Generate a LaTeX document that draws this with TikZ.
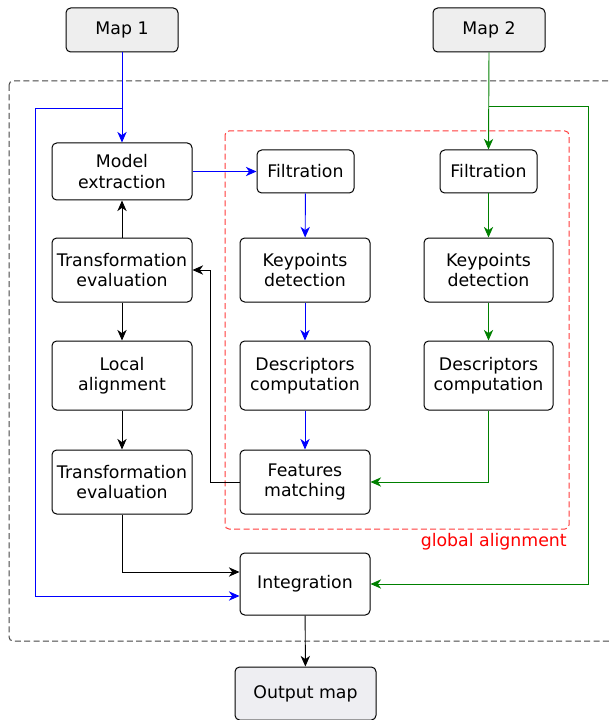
\documentclass[tikz,border=0pt]{standalone}
\usepackage{fontspec}
\setmainfont{DejaVu Sans}
\usetikzlibrary{arrows.meta}
\definecolor{mapfill}{HTML}{EEEEEE}
\definecolor{outfill}{HTML}{EEEEF2}
\definecolor{dgreen}{HTML}{008000}
\definecolor{dred}{HTML}{FF3B3B}
\definecolor{outergray}{HTML}{444444}
\tikzset{
  box/.style={draw=black, line width=0.75pt, rounded corners=3.5pt, align=center,
    font=\fontsize{13}{15.2}\selectfont, inner sep=0pt},
  sz/.style 2 args={minimum width=#1*0.75pt, minimum height=#2*0.75pt},
  conn/.style={line width=0.7pt, -{Stealth[length=8pt, width=7pt, inset=2.5pt]}},
}
\begin{document}
\begin{tikzpicture}[x=0.75pt, y=-0.75pt]
\useasboundingbox (0,0) rectangle (609,720);
% outer and inner dashed frames
\draw[outergray, line width=0.75pt, dash pattern=on 4.5pt off 2.5pt, rounded corners=3pt] (9,81) rectangle (640,641);
\draw[dred, line width=0.75pt, dash pattern=on 4.5pt off 2.5pt, rounded corners=3pt] (225,131) rectangle (569,529);
\node[anchor=east, text=red, font=\fontsize{13}{15.2}\selectfont, inner sep=0pt] (gl) at (567,542) {global alignment};

% nodes
\node[box, fill=mapfill, sz={112}{44}] (m1) at (122,30) {Map 1};
\node[box, fill=mapfill, sz={112}{44}] (m2) at (489,30) {Map 2};
\node[box, sz={140}{57}] (me) at (122,171.5) {Model\\extraction};
\node[box, sz={140}{64}] (te1) at (122,270) {Transformation\\evaluation};
\node[box, sz={140}{69}] (la) at (122,375.5) {Local\\alignment};
\node[box, sz={140}{64}] (te2) at (122,482) {Transformation\\evaluation};
\node[box, sz={97}{43}] (f1) at (305.5,171.5) {Filtration};
\node[box, sz={130}{64}] (k1) at (305,270) {Keypoints\\detection};
\node[box, sz={130}{69}] (d1) at (305,375.5) {Descriptors\\computation};
\node[box, sz={130}{64}] (fm) at (305,482) {Features\\matching};
\node[box, sz={97}{43}] (f2) at (488.5,171.5) {Filtration};
\node[box, sz={129}{64}] (k2) at (488.5,270) {Keypoints\\detection};
\node[box, sz={129}{69}] (d2) at (488.5,375.5) {Descriptors\\computation};
\node[box, sz={130}{62}] (in) at (305,584) {Integration};
\node[box, fill=outfill, sz={141}{53}] (om) at (305.5,693.5) {Output map};

% map 1 (blue)
\coordinate (b1) at (122,108);
\draw[conn, blue] (m1.south) -- (me.north);
\draw[conn, blue] (b1) -| (35,596) -- (in.west |- 0,596);
\draw[conn, blue] (me.east) -- (f1.west);
\draw[conn, blue] (f1) -- (k1);
\draw[conn, blue] (k1) -- (d1);
\draw[conn, blue] (d1) -- (fm);

% map 2 (green)
\coordinate (b2) at (488.5,106);
\draw[conn, dgreen] (m2.south) -- (f2.north);
\draw[conn, dgreen] (b2) -| (588,584) -- (in.east);
\draw[conn, dgreen] (f2) -- (k2);
\draw[conn, dgreen] (k2) -- (d2);
\draw[conn, dgreen] (d2.south) |- (fm.east);

% black
\draw[conn] (fm.west) -| (210,270) -- (te1.east);
\draw[conn] (te1) -- (me);
\draw[conn] (te1) -- (la);
\draw[conn] (la) -- (te2);
\draw[conn] (te2.south) |- (in.west |- 0,572);
\draw[conn] (in) -- (om);
\end{tikzpicture}
\end{document}
